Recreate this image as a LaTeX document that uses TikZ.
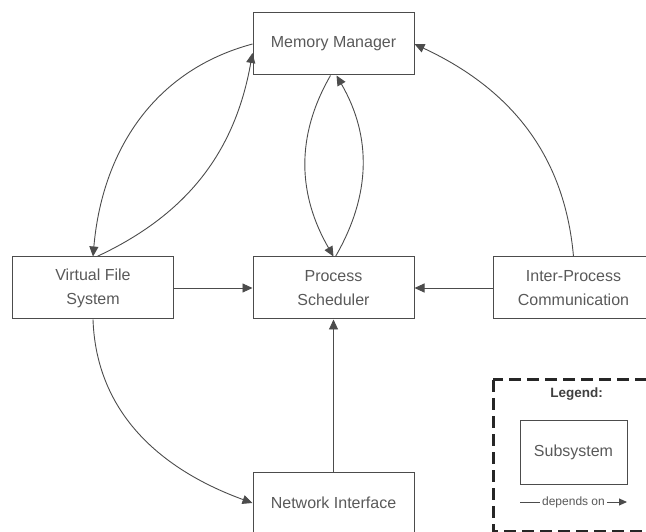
\documentclass[tikz,border=0pt]{standalone}
\usepackage{fontspec}
\setmainfont{Liberation Sans}
\usetikzlibrary{arrows.meta}
\definecolor{linegray}{gray}{0.3}
\definecolor{textgray}{gray}{0.35}

\begin{document}
\begin{tikzpicture}[x=1pt, y=1pt,
        subsys/.style={draw=linegray, line width=1pt, minimum width=161pt, minimum height=62pt,
            inner sep=0pt, align=center, text=textgray, font=\fontsize{16}{24}\selectfont},
        dep/.style={draw=linegray, line width=0.9pt, -{Triangle[length=10pt, width=9pt]}}]
    \useasboundingbox (0,0) rectangle (646,531);
    \clip (0,0) rectangle (646,531);
    % subsystems
    \node[subsys] (mm) at (333.5,487) {Memory Manager};
    \node[subsys] (ps) at (333.5,243) {Process\\Scheduler};
    \node[subsys] (vfs) at (93,243) {Virtual File\\System};
    \node[subsys] (ipc) at (573.5,243) {Inter-Process\\Communication};
    \node[subsys] (ni) at (333.5,28) {Network Interface};
    % dependencies
    \draw[dep] (vfs.east) -- (ps.west);
    \draw[dep] (ipc.west) -- (ps.east);
    \draw[dep] (ni.north) -- (ps.south);
    \draw[dep] (mm.west) to[out=195, in=85] (vfs.north);
    \draw[dep] ([xshift=4pt]vfs.north) to[out=25, in=-100] ([yshift=-9pt]mm.west);
    \draw[dep] ([xshift=-3pt]mm.south) to[out=240, in=120] (ps.north);
    \draw[dep] ([xshift=2pt]ps.north) to[out=60, in=-60] ([xshift=3pt]mm.south);
    \draw[dep] (ipc.north) to[out=95, in=-25] (mm.east);
    \draw[dep] (vfs.south) to[out=-88, in=160] (ni.west);
    % legend
    \draw[black!85, line width=3pt, dash pattern=on 12pt off 6pt] (493,151) rectangle (680,0);
    \node[font=\bfseries\fontsize{13.5}{16}\selectfont, text=black!75] (legend) at (576.5,137) {Legend:};
    \node[subsys, minimum width=107pt, minimum height=64pt] (sub) at (573.5,79) {Subsystem};
    \coordinate (depa) at (520,29);
    \coordinate (depb) at (627,29);
    \draw[dep, -{Triangle[length=8pt, width=7pt]}] (depa) -- node[fill=white, inner sep=2pt, text=textgray,
        font=\fontsize{12}{14}\selectfont] (deplbl) {depends on} (depb);
\end{tikzpicture}
\end{document}
